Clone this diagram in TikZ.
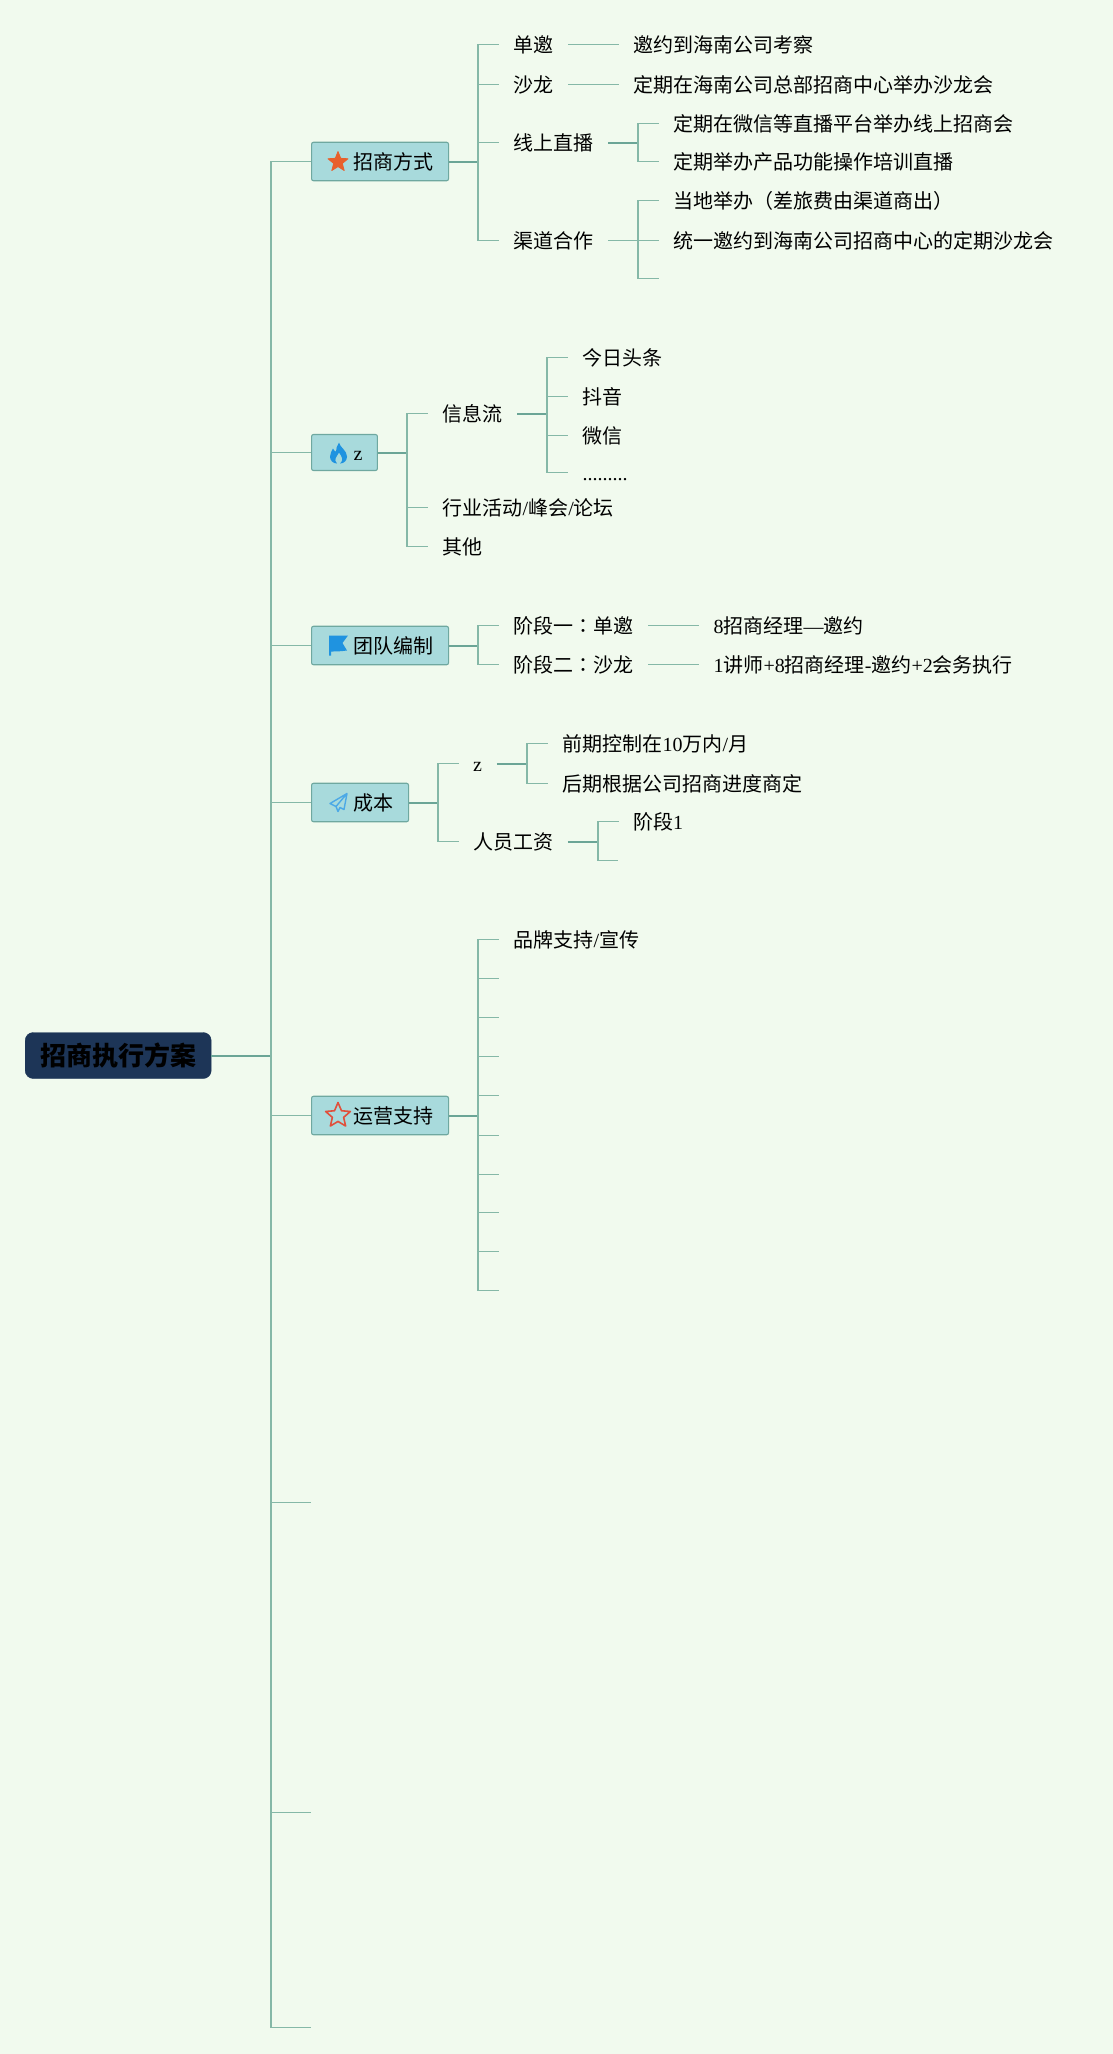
\documentclass[tikz,border=0pt]{standalone}
\usepackage{fontspec}
\usetikzlibrary{shapes.geometric}
\setmainfont{Liberation Serif}
\newfontfamily\cjk{Noto Sans CJK SC}
\newfontfamily\cjktc{Noto Sans CJK TC}
\newcommand\lat[1]{{\rmfamily #1}}
\newcommand\cln{{\cjktc ：}}
\definecolor{bgc}{HTML}{F1FAEE}
\definecolor{boxc}{HTML}{A8DADC}
\definecolor{boxl}{HTML}{6FA8A0}
\definecolor{rootc}{HTML}{1D3557}
\definecolor{linkc}{HTML}{85B8A7}
\definecolor{linkd}{HTML}{6BA596}
\definecolor{orng}{HTML}{E8602C}
\definecolor{blu}{HTML}{1F93E0}
\definecolor{redc}{HTML}{E0503C}
\tikzset{
  lk/.style={draw=linkc,line width=1.3pt},
  lkd/.style={draw=linkd,line width=2pt},
  tx/.style={anchor=west,inner xsep=14.5pt,inner ysep=0pt,text height=16pt,text depth=0pt,
    font=\fontsize{20pt}{24pt}\selectfont\cjk,text=black},
  bx/.style={anchor=west,draw=boxl,line width=1.1pt,fill=boxc,rounded corners=2pt,inner xsep=0pt,inner ysep=0pt,
    minimum height=38.5pt,text height=16pt,text depth=0pt,font=\fontsize{20pt}{24pt}\selectfont\cjk,text=black},
  rootbox/.style={anchor=west,fill=rootc,draw=rootc,rounded corners=8pt,inner xsep=0pt,inner ysep=0pt,
    minimum width=186pt,minimum height=46pt,text height=20.5pt,text depth=0pt,
    font=\fontsize{26pt}{30pt}\selectfont\cjk\bfseries,text=black},
}
\begin{document}
\begin{tikzpicture}[x=1pt,y=-1pt]
\useasboundingbox (0,0) rectangle (1113,2054);
\fill[bgc] (0,0) rectangle (1113,2054);
\begin{scope}[yshift=-0.5pt]
% root and main branches
\node[rootbox] (root) at (25,1055) {招商执行方案};
\coordinate (t0) at (271,1055);
\node[bx] (b1) at (311,161) {\hspace*{42pt}招商方式\hspace*{15pt}};
\node[bx,minimum height=36pt] (b2) at (311,452) {\hspace*{42pt}\lat{z}\hspace*{15pt}};
\node[bx] (b3) at (311,645) {\hspace*{42pt}团队编制\hspace*{15pt}};
\node[bx] (b4) at (311,802) {\hspace*{42pt}成本\hspace*{15pt}};
\node[bx] (b5) at (311,1115) {\hspace*{42pt}运营支持\hspace*{15pt}};
\coordinate (b6) at (311,1502);
\coordinate (b7) at (311,1812);
\coordinate (b8) at (311,2027);
\draw[lkd] (root.east) -- (t0);
\foreach \n in {b1,b2,b3,b4,b5}{\draw[lk] (t0) |- (\n.west);}
\foreach \n in {b6,b7,b8}{\draw[lk] (t0) |- (\n);}

% icons
\node[star,star points=5,star point ratio=2.3,fill=orng,draw=orng,line join=round,line width=.8pt,inner sep=0pt,minimum size=21pt] (i1) at (338,161.5) {};
\fill[blu] (339,442) .. controls (340,447) and (347,450) .. (347,456) .. controls (347,460) and (344,463) .. (340,463)
  .. controls (344,460) and (342,456) .. (339,452) .. controls (337,456) and (333,459) .. (337,463)
  .. controls (333,463) and (330,460) .. (330,456) .. controls (330,453) and (332,450) .. (333,448)
  .. controls (334,450) and (335,451) .. (336,451) .. controls (336,448) and (337,445) .. (339,442) -- cycle;
\fill[blu] (329,635) -- (348,635) -- (342.5,642.5) -- (347,650) .. controls (340,651) and (335,651) .. (331,651) -- (331,655) -- (329,655) -- cycle;
\draw[blu!80,line width=1.4pt,line join=round] (347,793) -- (330,803) -- (336,806) -- (347,793) -- (344,809) -- (340,807) -- (338,811) -- (336,806);
\node[star,star points=5,star point ratio=2.2,draw=redc,line join=round,line width=1.6pt,inner sep=0pt,minimum size=26pt] (i5) at (338,1115) {};

% b1 children
\coordinate (s1) at (478,161);
\node[tx] (a1) at (499,44) {单邀};
\node[tx] (a2) at (499,84) {沙龙};
\node[tx] (a3) at (499,142) {线上直播};
\node[tx] (a4) at (499,240) {渠道合作};
\draw[lkd] (b1.east) -- (s1);
\foreach \n in {a1,a2,a3,a4}{\draw[lk] (s1) |- (\n.west);}
\node[tx] (a1a) at (619,44) {邀约到海南公司考察};
\node[tx] (a2a) at (619,84) {定期在海南公司总部招商中心举办沙龙会};
\draw[lk] (a1.east) -- (a1a.west);
\draw[lk] (a2.east) -- (a2a.west);
\coordinate (s3) at (638,142);
\node[tx] (a3a) at (659,123) {定期在微信等直播平台举办线上招商会};
\node[tx] (a3b) at (659,161) {定期举办产品功能操作培训直播};
\draw[lkd] (a3.east) -- (s3);
\draw[lk] (s3) |- (a3a.west);
\draw[lk] (s3) |- (a3b.west);
\coordinate (s4) at (638,240);
\node[tx] (a4a) at (659,200) {当地举办（差旅费由渠道商出）};
\node[tx] (a4b) at (659,240) {统一邀约到海南公司招商中心的定期沙龙会};
\coordinate (a4c) at (659,278);
\draw[lk] (a4.east) -- (s4);
\draw[lk] (s4) |- (a4a.west);
\draw[lk] (s4) -- (a4b.west);
\draw[lk] (s4) |- (a4c);

% b2 children
\coordinate (s5) at (407,452);
\node[tx] (c1) at (428,413) {信息流};
\node[tx] (c2) at (428,507) {行业活动\lat{/}峰会\lat{/}论坛};
\node[tx] (c3) at (428,546) {其他};
\draw[lkd] (b2.east) -- (s5);
\foreach \n in {c1,c2,c3}{\draw[lk] (s5) |- (\n.west);}
\coordinate (s6) at (547,413);
\node[tx] (c1a) at (568,357) {今日头条};
\node[tx] (c1b) at (568,396) {抖音};
\node[tx] (c1c) at (568,435) {微信};
\node[tx] (c1d) at (568,472) {\lat{.........}};
\draw[lkd] (c1.east) -- (s6);
\foreach \n in {c1a,c1b,c1c,c1d}{\draw[lk] (s6) |- (\n.west);}

% b3 children
\coordinate (s7) at (478,645);
\node[tx] (d1) at (499,625) {阶段一\cln 单邀};
\node[tx] (d2) at (499,664) {阶段二\cln 沙龙};
\draw[lkd] (b3.east) -- (s7);
\draw[lk] (s7) |- (d1.west);
\draw[lk] (s7) |- (d2.west);
\node[tx] (d1a) at (699,625) {\lat{8}招商经理\lat{—}邀约};
\node[tx] (d2a) at (699,664) {\lat{1}讲师\lat{+8}招商经理\lat{-}邀约\lat{+2}会务执行};
\draw[lk] (d1.east) -- (d1a.west);
\draw[lk] (d2.east) -- (d2a.west);

% b4 children
\coordinate (s8) at (438,802);
\node[tx] (f1) at (458.5,763) {\lat{z}};
\node[tx] (f2) at (458.5,841) {人员工资};
\draw[lkd] (b4.east) -- (s8);
\draw[lk] (s8) |- (f1.west);
\draw[lk] (s8) |- (f2.west);
\coordinate (s9) at (527,763);
\node[tx] (f1a) at (548,743) {前期控制在\lat{10}万内\lat{/}月};
\node[tx] (f1b) at (548,783) {后期根据公司招商进度商定};
\draw[lkd] (f1.east) -- (s9);
\draw[lk] (s9) |- (f1a.west);
\draw[lk] (s9) |- (f1b.west);
\coordinate (s10) at (598,841);
\node[tx] (f2a) at (618.5,821) {阶段\lat{1}};
\coordinate (f2b) at (618,860);
\draw[lkd] (f2.east) -- (s10);
\draw[lk] (s10) |- (f2a.west);
\draw[lk] (s10) |- (f2b);

% b5 children
\coordinate (s11) at (478,1115);
\node[tx] (g1) at (499,939) {品牌支持\lat{/}宣传};
\draw[lkd] (b5.east) -- (s11);
\draw[lk] (s11) |- (g1.west);
\foreach \i/\y in {2/978,3/1017,4/1056,5/1095,6/1135,7/1174,8/1212,9/1251,10/1290}{
  \coordinate (g\i) at (499,\y);
  \draw[lk] (s11) |- (g\i);
}
\end{scope}
\end{tikzpicture}
\end{document}
